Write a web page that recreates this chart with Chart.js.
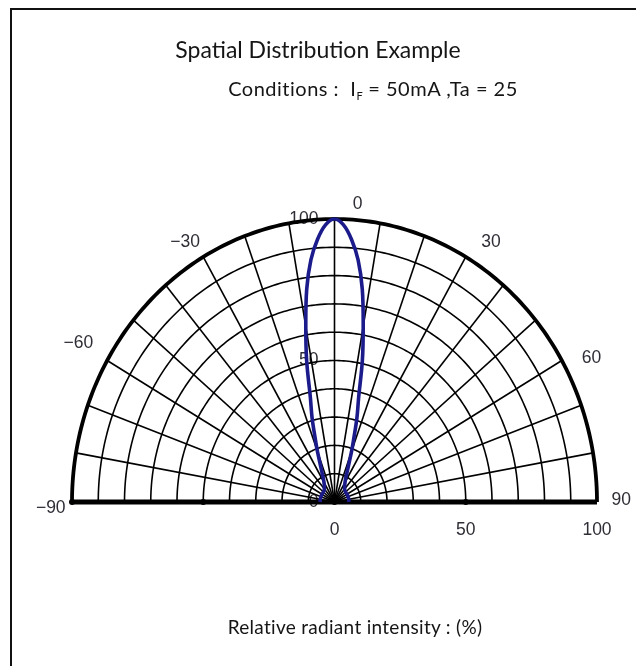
<!DOCTYPE html>
<html><head><meta charset="utf-8">
<script src="https://cdn.jsdelivr.net/npm/chart.js@4"></script>
<style>
html,body{margin:0;padding:0;background:#fff;}
#wrap{position:relative;width:636px;height:666px;overflow:hidden;background:#fff;}
canvas{position:absolute;left:0;top:0;}
.t{position:absolute;white-space:nowrap;font-family:Lato,"Open Sans",sans-serif;color:#151515;transform:translateX(-50%);line-height:1;}
.t sub{font-size:11px;vertical-align:-4px;line-height:0;letter-spacing:0;}
#frameTop{position:absolute;left:10px;top:8px;width:626px;height:2px;background:#111;}
#frameLeft{position:absolute;left:10px;top:8px;width:2px;height:658px;background:#111;}
</style></head>
<body><div id="wrap">
<canvas id="c" width="636" height="666"></canvas>
<div id="frameTop"></div><div id="frameLeft"></div>
<div class="t" id="title" style="left:318px;top:38px;font-size:23px;">Spatial Distribution Example</div>
<div class="t" id="cond" style="left:373px;top:78px;font-size:20px;letter-spacing:0.5px;">Conditions :&nbsp; I<sub>F</sub> = 50mA ,Ta = 25</div>
<div class="t" id="xlab" style="left:355px;top:617px;font-size:19px;letter-spacing:0.3px;">Relative radiant intensity : (%)</div>
</div>
<script>
// ---- data ----
const angleDeg  = [-90,-80,-70,-60,-50,-40,-30,-25,-20,-18,-16,-14,-12,-10,-8,-6,-4,-2,0,2,4,6,8,10,12,14,16,18,20,25,30,40,50,60,70,80,90];
const intensity = [5.5,5.5,5.5,5.5,5.5,6,8,11,19,24,31,38,51,63,76,86,93,98,100,98,93,86,76,63,51,38,31,24,19,11,8,6,5.5,5.5,5.5,5.5,5.5];
const radiusGrid = [10,20,30,40,50,60,70,80,90,100];
const angleGrid = [-90,-80,-70,-60,-50,-40,-30,-20,-10,0,10,20,30,40,50,60,70,80,90];
const angleLabels = [-90,-60,-30,0,30,60,90];
const radiusLabels = [0,50,100];
const bottomLabels = [0,50,100];
const baselineDots = [-100,-50,0,50];

// ---- layout (pixel offsets for angle labels) ----
const angleLabelOffset = {"-90":[5,6],"-60":[-6,-3],"-30":[-5,10],"0":[23,13],"30":[12,10],"60":[7,12],"90":[-2,-2]};
const rad = d => d*Math.PI/180;
const polar = (r,a) => ({x: r*Math.sin(rad(a)), y: r*Math.cos(rad(a))});

const curveData = angleDeg.map((a,i)=>polar(intensity[i],a));
const dotData = baselineDots.map(v=>({x:v,y:0}));

const polarGrid = {
  id:'polarGrid',
  beforeDatasetsDraw(chart){
    const ctx = chart.ctx, xs = chart.scales.x, ys = chart.scales.y;
    const P = (r,a)=>{const p=polar(r,a);return [xs.getPixelForValue(p.x), ys.getPixelForValue(p.y)];};
    ctx.save();
    ctx.fillStyle = '#2e2e36';
    ctx.font = '17.5px "Liberation Sans", Arial, sans-serif';
    ctx.textAlign='center'; ctx.textBaseline='middle';
    angleLabels.forEach(a=>{
      const [px,py]=P(110,a); const o=angleLabelOffset[String(a)]||[0,0];
      ctx.fillText(a<0?'\u2212'+Math.abs(a):String(a), px+o[0], py+o[1]);
    });
    ctx.textAlign='right';
    const cx = xs.getPixelForValue(0);
    radiusLabels.forEach(r=>{ ctx.fillText(String(r), cx-16, ys.getPixelForValue(r)); });
    ctx.textAlign='center';
    const by = ys.getPixelForValue(0)+28;
    bottomLabels.forEach(v=>{ ctx.fillText(String(v), xs.getPixelForValue(v), by); });
    // grid circles
    ctx.strokeStyle='#000'; ctx.lineCap='butt';
    radiusGrid.forEach(r=>{
      ctx.lineWidth = r===100?3.8:1.6;
      ctx.beginPath();
      for(let a=-90;a<=90;a+=1){const [px,py]=P(r,a); if(a===-90)ctx.moveTo(px,py); else ctx.lineTo(px,py);}
      ctx.stroke();
    });
    // radial lines
    ctx.lineWidth=1.6;
    angleGrid.forEach(a=>{
      const [x0,y0]=P(0,a),[x1,y1]=P(100,a);
      ctx.beginPath(); ctx.moveTo(x0,y0); ctx.lineTo(x1,y1); ctx.stroke();
    });
    // baseline
    ctx.lineWidth=5;
    ctx.beginPath(); ctx.moveTo(xs.getPixelForValue(-100), ys.getPixelForValue(0));
    ctx.lineTo(xs.getPixelForValue(100), ys.getPixelForValue(0)); ctx.stroke();
    ctx.restore();
  }
};

new Chart(document.getElementById('c'),{
  type:'scatter',
  data:{datasets:[
    {data:curveData, showLine:true, borderColor:'#1b1b8c', borderWidth:3.6, pointRadius:0, tension:0.35, clip:false, order:2},
    {data:dotData, pointRadius:3, pointBackgroundColor:'#000', pointBorderWidth:0, showLine:false, clip:false, order:1}
  ]},
  options:{
    responsive:false, animation:false, devicePixelRatio:1,
    layout:{padding:{left:72,right:39,top:219,bottom:164}},
    plugins:{legend:{display:false},tooltip:{enabled:false}},
    scales:{
      x:{type:'linear',min:-100,max:100,display:false},
      y:{type:'linear',min:0,max:100,display:false}
    }
  },
  plugins:[polarGrid]
});
</script>
</body></html>
